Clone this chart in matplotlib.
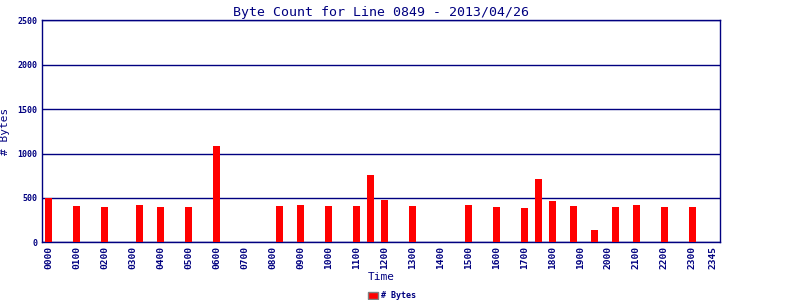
import matplotlib
matplotlib.use("Agg")
import matplotlib.pyplot as plt
from matplotlib.patches import Patch

times = ["0000", "0100", "0200", "0315", "0400", "0500", "0600", "0815", "0900",
         "1000", "1100", "1130", "1200", "1300", "1500", "1600", "1700", "1730",
         "1800", "1845", "1930", "2015", "2100", "2200", "2300"]
byte_counts = [495, 410, 400, 422, 400, 400, 1085, 410, 422,
               410, 410, 755, 480, 410, 422, 400, 388, 718,
               468, 410, 140, 400, 422, 400, 400]
tick_labels = ["0000", "0100", "0200", "0300", "0400", "0500", "0600", "0700",
               "0800", "0900", "1000", "1100", "1200", "1300", "1400", "1500",
               "1600", "1700", "1800", "1900", "2000", "2100", "2200", "2300", "2345"]
y_ticks = [0, 500, 1000, 1500, 2000, 2500]

def to_hours(s):
    return int(s[:2]) + int(s[2:]) / 60.0

navy = "#000080"
font = "DejaVu Sans Mono"

fig = plt.figure(figsize=(8, 3), dpi=100)
ax = fig.add_axes([0.0521, 0.1923, 0.9004 - 0.0521, 0.9323 - 0.1923])

xs = [to_hours(t) for t in times]
ax.bar(xs, byte_counts, width=0.23, color="#ff0000", zorder=3)

ax.set_xlim(-0.25, 24.0)
ax.set_ylim(0, 2500)
ax.set_yticks(y_ticks)
ax.set_yticklabels([str(v) for v in y_ticks], fontsize=6, color=navy,
                   family=font, fontweight="bold")
ax.set_xticks([to_hours(t) for t in tick_labels])
ax.set_xticklabels(tick_labels, rotation=90, fontsize=6.8, color=navy,
                   family=font, fontweight="bold")
ax.tick_params(axis="both", length=0, pad=3)

ax.yaxis.grid(True, color=navy, linewidth=1.0, zorder=1)
ax.set_axisbelow(True)
for side in ["left", "right", "bottom", "top"]:
    ax.spines[side].set_color(navy)
    ax.spines[side].set_linewidth(1.0)

ax.set_title("Byte Count for Line 0849 - 2013/04/26", fontsize=9.5,
             color=navy, family=font, pad=3)
ax.set_xlabel("Time", fontsize=8, color=navy, family=font, labelpad=2)
ax.set_ylabel("# Bytes", fontsize=8, color=navy, family=font, labelpad=2)
ax.yaxis.set_label_coords(-0.046, 0.5)

handles = [Patch(facecolor="#ff0000", edgecolor="#808080", linewidth=1.0,
                 label="# Bytes")]
fig.legend(handles=handles, loc="lower center", bbox_to_anchor=(0.49, -0.025),
           frameon=False, prop={"family": font, "size": 6, "weight": "bold"},
           handlelength=1.2, handleheight=0.9, handletextpad=0.3, labelcolor=navy)

fig.savefig("out.png", dpi=100)
